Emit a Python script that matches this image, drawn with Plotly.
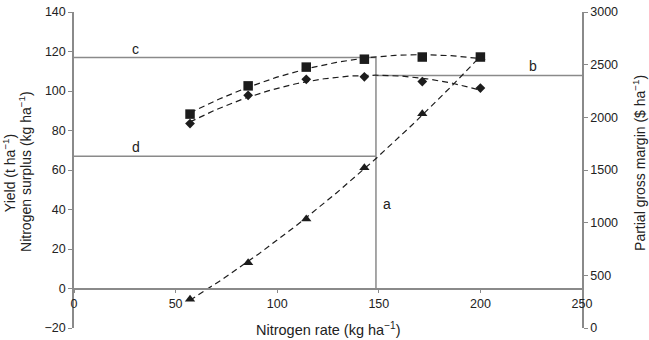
import numpy as np
import plotly.graph_objects as go

# Data
n_rate = [57.1, 85.7, 114.3, 142.9, 171.4, 200.0]
yield_sq = [88.3, 102.6, 112.1, 116.1, 117.2, 117.2]
margin_dia = [83.5, 97.8, 105.9, 107.2, 104.8, 101.5]
surplus_tri = [-5.4, 13.0, 35.2, 61.2, 88.5, 117.0]

x_ticks = [0, 50, 100, 150, 200, 250]
y_ticks = [-20, 0, 20, 40, 60, 80, 100, 120, 140]
y2_ticks = [0, 500, 1000, 1500, 2000, 2500, 3000]

# Reference lines
line_a_x = 148.6
line_c_y = 117.0
line_b_y = 107.8
line_d_y = 67.0

GREY = "#8a8a8a"
DARK = "#1c1c1c"
TXT = "#222222"
FONT = "Liberation Sans, Arial, sans-serif"

xs = np.linspace(min(n_rate), max(n_rate), 120)

fig = go.Figure()

for ys, sym, size in [(yield_sq, "square", 9.5), (margin_dia, "diamond", 7.5), (surplus_tri, "triangle-up", 9)]:
    coef = np.polyfit(n_rate, ys, 2)
    fig.add_trace(go.Scatter(x=xs, y=np.polyval(coef, xs), mode="lines",
                             line=dict(color=DARK, width=1.2, dash="6px,4px"),
                             showlegend=False, hoverinfo="skip"))
    fig.add_trace(go.Scatter(x=n_rate, y=ys, mode="markers",
                             marker=dict(symbol=sym, size=size, color=DARK),
                             showlegend=False))

# invisible trace to activate right axis
fig.add_trace(go.Scatter(x=[0], y=[0], yaxis="y2", mode="markers",
                         marker=dict(opacity=0), showlegend=False, hoverinfo="skip"))

shapes = [
    dict(type="line", xref="x", yref="y", x0=line_a_x, x1=line_a_x, y0=0, y1=line_c_y),
    dict(type="line", xref="x", yref="y", x0=0, x1=line_a_x, y0=line_c_y, y1=line_c_y),
    dict(type="line", xref="x", yref="y", x0=0, x1=line_a_x, y0=line_d_y, y1=line_d_y),
    dict(type="line", xref="x", yref="y", x0=line_a_x, x1=250, y0=line_b_y, y1=line_b_y),
]
for s in shapes:
    s["line"] = dict(color=GREY, width=1.5)
    s["layer"] = "below"

ann_font = dict(family=FONT, size=14, color=TXT)
annotations = [
    dict(x=30.5, y=121.5, xref="x", yref="y", text="c", showarrow=False, font=ann_font),
    dict(x=30.5, y=71.8, xref="x", yref="y", text="d", showarrow=False, font=ann_font),
    dict(x=226, y=112.7, xref="x", yref="y", text="b", showarrow=False, font=ann_font),
    dict(x=154, y=43, xref="x", yref="y", text="a", showarrow=False, font=ann_font),
    dict(x=-0.128, y=0.49, xref="paper", yref="paper", text="Yield (t ha<sup>−1</sup>)",
         textangle=-90, showarrow=False, font=dict(family=FONT, size=14, color=TXT),
         xanchor="center", yanchor="middle"),
    dict(x=-0.0965, y=0.497, xref="paper", yref="paper", text="Nitrogen surplus (kg ha<sup>−1</sup>)",
         textangle=-90, showarrow=False, font=dict(family=FONT, size=14, color=TXT),
         xanchor="center", yanchor="middle"),
    dict(x=1.112, y=0.522, xref="paper", yref="paper", text="Partial gross margin ($ ha<sup>−1</sup>)",
         textangle=-90, showarrow=False, font=dict(family=FONT, size=14, color=TXT),
         xanchor="center", yanchor="middle"),
    dict(x=0.5, y=-0.004, xref="paper", yref="paper", text="Nitrogen rate (kg ha<sup>−1</sup>)",
         showarrow=False, font=dict(family=FONT, size=14.5, color=TXT),
         xanchor="center", yanchor="middle"),
]

tickfont = dict(family=FONT, size=12.5, color=TXT)
axis_common = dict(showline=True, linecolor=GREY, linewidth=1.5, ticks="outside",
                   ticklen=4, tickcolor=GREY, tickwidth=1, showgrid=False,
                   zeroline=False, tickfont=tickfont, ticklabeloverflow="allow")

fig.update_layout(
    width=649, height=340,
    margin=dict(l=74, r=67, t=5, b=7),
    paper_bgcolor="white", plot_bgcolor="white",
    showlegend=False,
    xaxis=dict(range=[0, 250], tickvals=x_ticks, anchor="free", position=0.125,
               **axis_common),
    yaxis=dict(range=[-20, 140], tickvals=y_ticks, domain=[0, 1], **axis_common),
    yaxis2=dict(range=[0, 3000], tickvals=y2_ticks, overlaying="y", side="right",
                anchor="x", **axis_common),
    shapes=shapes,
    annotations=annotations,
)

fig.write_html("out.html", config={"displayModeBar": False},
               post_script="document.body.style.margin='0';document.body.style.overflow='hidden';")
